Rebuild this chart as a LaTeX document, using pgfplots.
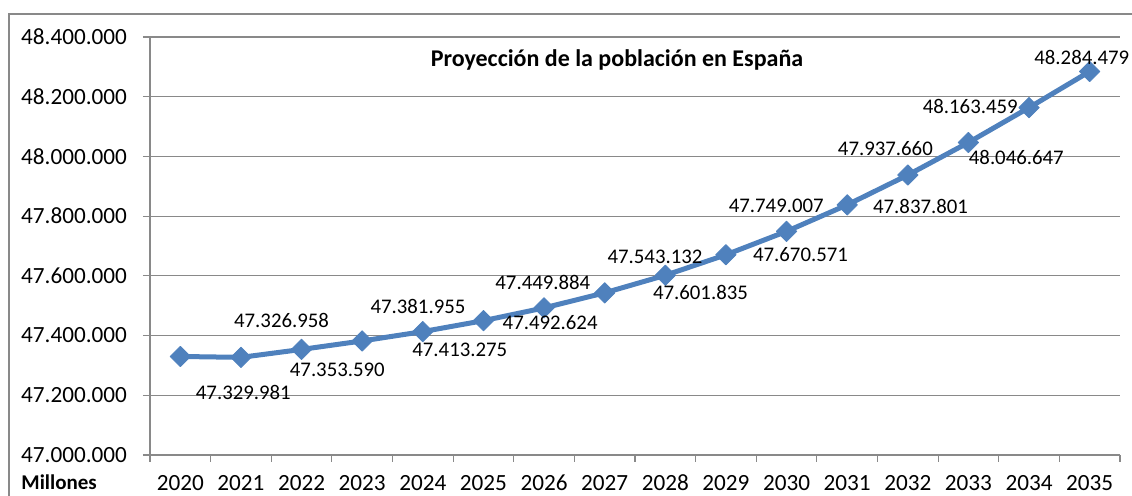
\documentclass[border=0pt]{standalone}
\usepackage{fontspec}
\setmainfont{Carlito}
\usepackage{pgfplots}
\pgfplotsset{compat=1.18}
\definecolor{lineblue}{HTML}{4F81BD}
\definecolor{gridgray}{HTML}{898989}
\begin{document}
\begin{tikzpicture}
\useasboundingbox (0,0) rectangle (566pt,248pt);
\draw[gridgray, line width=0.6pt] (4.5pt,0) -- (4.5pt,241pt) -- (566pt,241pt);
\begin{axis}[
  at={(75pt,20.5pt)}, anchor=south west,
  scale only axis, width=485pt, height=209pt,
  xmin=-0.5, xmax=15.5, ymin=47000000, ymax=48400000,
  xtick={-0.5,0.5,...,15.5},
  x tick label as interval,
  xticklabels={2020,2021,2022,2023,2024,2025,2026,2027,2028,2029,2030,2031,2032,2033,2034,2035},
  ytick={47000000,47200000,47400000,47600000,47800000,48000000,48200000,48400000},
  yticklabel={\pgfmathprintnumber[fixed,precision=0,1000 sep={.},assume math mode=true]{\tick}},
  scaled y ticks=false,
  ymajorgrids, grid style={gridgray, line width=0.6pt},
  axis lines*=left, axis line style={gridgray, line width=0.6pt, -},
  tick style={gridgray, line width=0.6pt},
  tick align=outside, major tick length=3.5pt,
  tick label style={font=\fontsize{11.6}{13}\selectfont, text=black},
  yticklabel style={xshift=-4.5pt},
  xticklabel style={yshift=-3pt},
  clip=false,
]
\addplot[lineblue, line width=2.5pt, line join=round, mark=square*, mark size=3.6pt,
  mark options={solid, rotate=45, line width=0.4pt, fill=lineblue, draw=lineblue}]
  coordinates {
  (0,47329981) (1,47326958) (2,47353590) (3,47381955) (4,47413275) (5,47449884)
  (6,47492624) (7,47543132) (8,47601835) (9,47670571) (10,47749007) (11,47837801)
  (12,47937660) (13,48046647) (14,48163459) (15,48284479)};
\addplot[only marks, mark=none, nodes near coords, point meta=explicit symbolic,
  nodes near coords style={anchor=center, inner sep=0pt, text=black, font=\fontsize{10.4}{12}\selectfont}]
  table[meta=label] {
x y label
1.04 47211000 47.329.981
1.67 47452000 47.326.958
2.59 47285000 47.353.590
3.92 47496000 47.381.955
4.61 47352000 47.413.275
5.98 47579000 47.449.884
6.10 47445000 47.492.624
7.83 47663000 47.543.132
8.58 47543000 47.601.835
10.23 47670000 47.670.571
9.83 47834000 47.749.007
12.21 47834000 47.837.801
11.63 48028000 47.937.660
13.79 47995000 48.046.647
13.03 48166000 48.163.459
14.87 48330000 48.284.479
};
\node[font=\bfseries\fontsize{12}{14}\selectfont] at (rel axis cs:0.4814,0.945) {Proyección de la población en España};
\end{axis}
\node[anchor=west, inner sep=0pt, font=\bfseries\fontsize{10.5}{12}\selectfont] at (10.5pt,7pt) {Millones};
\end{tikzpicture}
\end{document}
